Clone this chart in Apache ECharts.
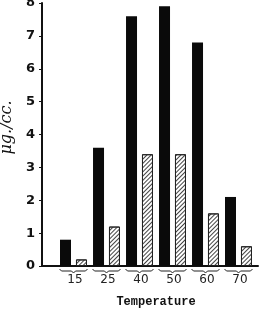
<!DOCTYPE html>
<html>
<head>
<meta charset="utf-8">
<script src="https://cdn.jsdelivr.net/npm/echarts@6/dist/echarts.min.js"></script>
<style>
  html, body { margin: 0; padding: 0; background: #fff; }
  #chart { width: 272px; height: 310px; }
</style>
</head>
<body>
<div id="chart"></div>
<script>
// temperatures and the two sets of values (µg./cc.)
var temps = ['15', '25', '40', '50', '60', '70'];
var solidVals = [0.8, 3.6, 7.6, 7.9, 6.8, 2.1];
var hatchVals = [0.2, 1.2, 3.4, 3.4, 1.6, 0.6];
var yTicks = [0, 1, 2, 3, 4, 5, 6, 7, 8];

var myChart = echarts.init(document.getElementById('chart'));

// little brace under each pair of bars
function renderBrace(params, api) {
    var p = api.coord([api.value(0), 0]);
    var x = p[0], y = p[1];
    return {
        type: 'polyline',
        shape: {
            points: [[x - 14, y + 3], [x - 12, y + 5], [x - 2, y + 5], [x, y + 7],
                     [x + 2, y + 5], [x + 12, y + 5], [x + 14, y + 3]]
        },
        style: { stroke: '#222', lineWidth: 1, fill: null }
    };
}

var option = {
    animation: false,
    grid: [
        { left: 57, width: 198, top: 3, height: 263, outerBoundsMode: 'none' },
        { left: 42, width: 216, top: 3, height: 263, outerBoundsMode: 'none' }
    ],
    xAxis: [{
        type: 'category',
        gridIndex: 0,
        data: temps,
        axisLine: { show: false },
        axisTick: { show: false },
        axisLabel: {
            interval: 0,
            margin: 8,
            padding: [0, 0, 0, 3],
            color: '#222',
            fontFamily: 'DejaVu Sans',
            fontSize: 12
        },
        name: 'Temperature',
        nameLocation: 'middle',
        nameGap: 30,
        nameTextStyle: { fontFamily: 'Liberation Mono', fontWeight: 'bold', fontSize: 12, color: '#111' }
    }, {
        type: 'value',
        gridIndex: 1,
        min: 0, max: 1,
        axisLine: { show: true, onZero: false, lineStyle: { color: '#111', width: 2 } },
        axisTick: { show: false },
        axisLabel: { show: false },
        splitLine: { show: false }
    }],
    yAxis: [{
        type: 'value',
        gridIndex: 0,
        min: 0, max: 8,
        show: false
    }, {
        type: 'value',
        gridIndex: 1,
        min: 0, max: 8, interval: 1,
        axisLine: { show: true, lineStyle: { color: '#111', width: 2 } },
        axisTick: { show: true, length: 3, lineStyle: { color: '#111' } },
        splitLine: { show: false },
        axisLabel: {
            margin: 7,
            color: '#111',
            fontFamily: 'DejaVu Sans',
            fontWeight: 'bold',
            fontSize: 13,
            formatter: function (v) { return yTicks.indexOf(v) >= 0 ? String(v) : ''; }
        },
        name: 'μg./cc.',
        nameLocation: 'middle',
        nameGap: 19,
        nameTextStyle: {
            fontFamily: 'DejaVu Serif', fontStyle: 'italic', fontSize: 16, color: '#111',
            padding: [0, 0, 0, 14]
        }
    }],
    series: [{
        type: 'bar',
        xAxisIndex: 0,
        yAxisIndex: 0,
        data: solidVals,
        barWidth: 11,
        barGap: '45%',
        itemStyle: { color: '#0a0a0a' }
    }, {
        type: 'bar',
        xAxisIndex: 0,
        yAxisIndex: 0,
        data: hatchVals,
        barWidth: 11,
        itemStyle: {
            color: '#ffffff',
            borderColor: '#222',
            borderWidth: 1,
            decal: {
                symbol: 'rect',
                symbolSize: 1,
                color: '#444',
                dashArrayX: [1, 0],
                dashArrayY: [1, 2],
                rotation: -Math.PI / 4
            }
        }
    }, {
        type: 'custom',
        xAxisIndex: 0,
        yAxisIndex: 0,
        silent: true,
        data: temps.map(function (t, i) { return [i]; }),
        renderItem: renderBrace
    }]
};

myChart.setOption(option);
</script>
</body>
</html>
